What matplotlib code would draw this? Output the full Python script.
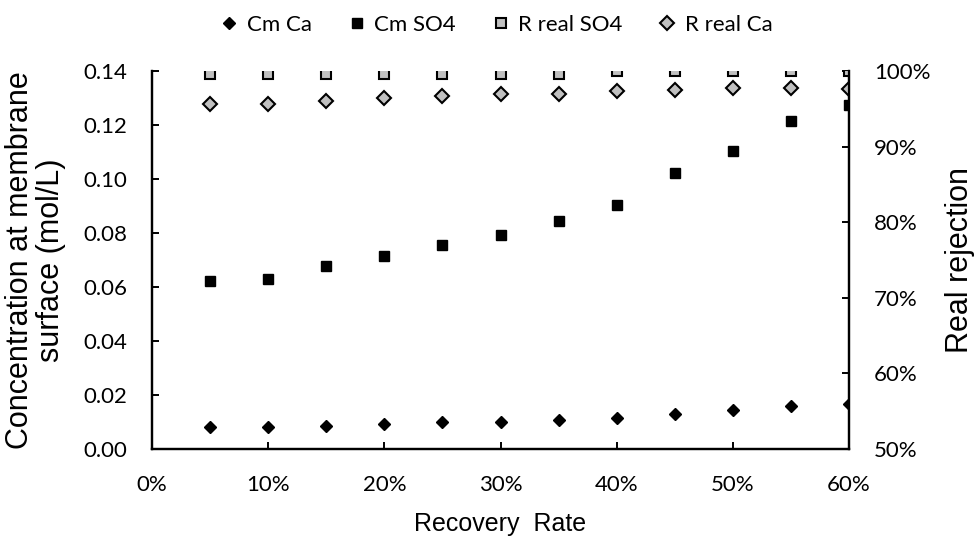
import numpy as np
import matplotlib
matplotlib.use("Agg")
import matplotlib.pyplot as plt
from matplotlib.ticker import FuncFormatter

# recovery rate (fraction)
recovery = [0.05, 0.10, 0.15, 0.20, 0.25, 0.30, 0.35, 0.40, 0.45, 0.50, 0.55, 0.60]

# concentration at membrane surface (mol/L)
cm_ca = [0.0080, 0.0080, 0.0087, 0.0094, 0.0101, 0.0101, 0.0108, 0.0116,
         0.0131, 0.0146, 0.0160, 0.0168]
cm_so4 = [0.0624, 0.0631, 0.0677, 0.0713, 0.0757, 0.0791, 0.0843, 0.0902,
          0.1021, 0.1103, 0.1213, 0.1273]

# real rejection (fraction)
r_so4 = [0.996, 0.996, 0.996, 0.996, 0.996, 0.996, 0.996, 0.9995,
         0.9995, 0.9995, 0.9995, 0.9995]
r_ca = [0.957, 0.957, 0.960, 0.964, 0.967, 0.970, 0.970, 0.973,
        0.975, 0.977, 0.977, 0.976]

tick_font = "Lato"
label_font = "Liberation Sans"

fig = plt.figure(figsize=(9.76, 5.42), dpi=100)
ax = fig.add_axes([0.1557, 0.1716, 0.7143, 0.6974])
ax2 = ax.twinx()

h1, = ax.plot(recovery, cm_ca, linestyle="none", marker="D", markersize=6.5,
              color="black", label="Cm Ca")
h2, = ax.plot(recovery, cm_so4, linestyle="none", marker="s", markersize=7,
              color="black", label="Cm SO4")
h3, = ax2.plot(recovery, r_so4, linestyle="none", marker="s", markersize=6.5,
               markerfacecolor="#c0c0c0", markeredgecolor="black",
               markeredgewidth=1.5, label="R real SO4")
h4, = ax2.plot(recovery, r_ca, linestyle="none", marker="D", markersize=7.5,
               markerfacecolor="#c0c0c0", markeredgecolor="black",
               markeredgewidth=1.5, label="R real Ca")

ax.set_xlim(0, 0.60)
ax.set_ylim(0, 0.14)
ax2.set_ylim(0.5, 1.0)
ax.set_xticks(np.arange(0, 0.61, 0.10))
ax.set_yticks(np.arange(0, 0.141, 0.02))
ax2.set_yticks(np.arange(0.5, 1.001, 0.1))

ax.xaxis.set_major_formatter(FuncFormatter(lambda v, p: f"{v * 100:.0f}%"))
ax.yaxis.set_major_formatter(FuncFormatter(lambda v, p: f"{v:.2f}"))
ax2.yaxis.set_major_formatter(FuncFormatter(lambda v, p: f"{v * 100:.0f}%"))

for a in (ax, ax2):
    a.spines["top"].set_visible(False)
    for s in ("left", "right", "bottom"):
        a.spines[s].set_linewidth(1.6)
    a.tick_params(direction="in", length=5, width=1.4, labelsize=16, pad=18)
    for lab in a.get_xticklabels() + a.get_yticklabels():
        lab.set_fontfamily(tick_font)
ax.tick_params(axis="x", pad=19)

ax.set_xlabel("Recovery  Rate", fontsize=18, family=label_font, labelpad=12)
ax.set_ylabel("Concentration at membrane\nsurface (mol/L)", fontsize=22,
              family=label_font, labelpad=12, linespacing=1.05)
ax2.set_ylabel("Real rejection", fontsize=22, family=label_font, labelpad=10)

fig.legend(handles=[h1, h2, h3, h4], loc="upper center", ncol=4,
           bbox_to_anchor=(0.51, 1.01), frameon=False, handlelength=0.6,
           handletextpad=0.5, columnspacing=1.7,
           prop={"family": tick_font, "size": 16})

fig.savefig("out.png", dpi=100)
